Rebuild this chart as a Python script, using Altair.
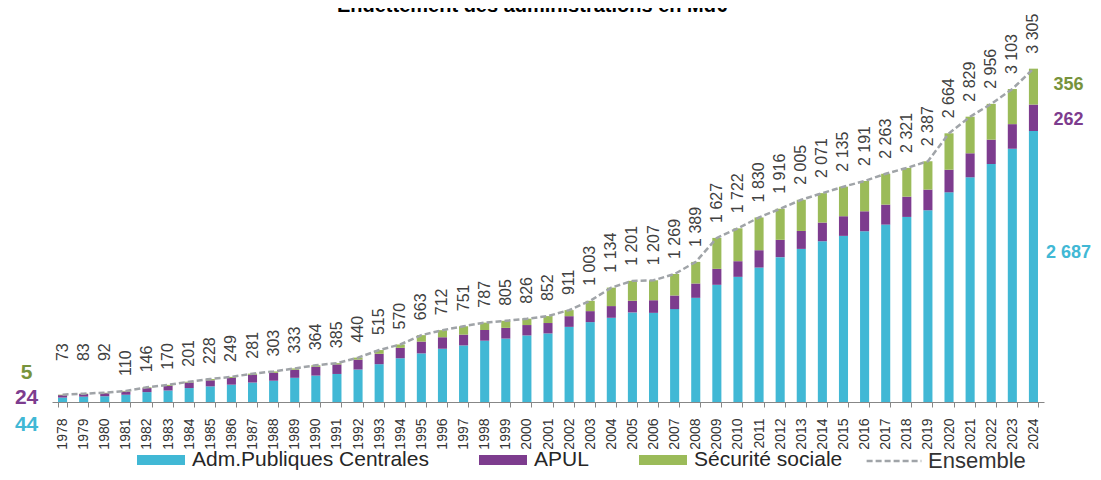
import altair as alt
import pandas as pd

# ---------------- data ----------------
years = list(range(1978, 2025))
totals = [73, 83, 92, 110, 146, 170, 201, 228, 249, 281, 303, 333,
          364, 385, 440, 515, 570, 663, 712, 751, 787, 805,
          826, 852, 911, 1003, 1134, 1201, 1207, 1269, 1389, 1627,
          1722, 1830, 1916, 2005, 2071, 2135, 2191, 2263, 2321, 2387,
          2664, 2829, 2956, 3103, 3305]
apuc = [44, 53, 57, 72, 98, 114, 138, 155, 172, 193, 211, 240,
        262, 278, 322, 375, 434, 482, 528, 561, 608, 629,
        660, 680, 745, 792, 835, 888, 884, 921, 1033, 1162,
        1241, 1333, 1436, 1518, 1594, 1647, 1693, 1759, 1835, 1901,
        2079, 2228, 2360, 2511, 2687]
apul = [24, 26, 30, 32, 40, 45, 55, 60, 66, 76, 78, 80,
        87, 95, 98, 103, 103, 117, 114, 107, 106, 106,
        103, 103, 106, 109, 116, 116, 125, 135, 142, 158,
        155, 172, 172, 178, 185, 195, 198, 198, 201, 205,
        224, 238, 241, 244, 262]
asso = [5, 4, 5, 6, 8, 11, 8, 13, 11, 12, 14, 13,
        15, 12, 20, 37, 33, 64, 70, 83, 73, 70,
        63, 69, 60, 102, 183, 197, 198, 213, 214, 307,
        326, 325, 308, 309, 292, 293, 300, 306, 285, 281,
        361, 363, 355, 348, 356]
series = ["Adm.Publiques Centrales", "APUL", "Sécurité sociale"]
bar_colors = ["#41b8d5", "#7d3c8e", "#9bbb59"]
note_colors = ["#41b8d5", "#7d3c8e", "#77933c"]
line_name = "Ensemble"
title_text = "Endettement des administrations en Md€"


def fr(v):
    return f"{v:,}".replace(",", " ")


rows = []
for i, yr in enumerate(years):
    for k, vals in enumerate([apuc, apul, asso]):
        rows.append({"year": str(yr), "yr": yr, "serie": series[k],
                     "value": vals[i], "ord": k})
bars_df = pd.DataFrame(rows)
tot_df = pd.DataFrame({"year": [str(y) for y in years], "yr": years,
                       "total": totals, "label": [fr(t) for t in totals],
                       "ens": line_name})

FONT = "Liberation Sans"

x_enc = alt.X("year:N", title=None,
              scale=alt.Scale(paddingInner=0.57, paddingOuter=0.285),
              axis=alt.Axis(labelAngle=270, labelFontSize=14, labelFont=FONT,
                            labelColor="#333333", labelPadding=11, tickSize=5,
                            tickColor="#878787", domainColor="#878787",
                            tickBand="extent", labelOverlap=False, grid=False))
y_scale = alt.Scale(domain=[0, 3500], nice=False)

bars = alt.Chart(bars_df).mark_bar().encode(
    x=x_enc,
    y=alt.Y("value:Q", stack="zero", scale=y_scale, axis=None),
    color=alt.Color("serie:N", scale=alt.Scale(domain=series, range=bar_colors),
                    legend=alt.Legend(orient="none", legendX=85, legendY=387,
                                      direction="horizontal", title=None,
                                      symbolType="M-1,-0.21H1V0.21H-1Z",
                                      symbolSize=2304, symbolStrokeWidth=0,
                                      symbolOpacity=1, labelLimit=400,
                                      labelFontSize=21, labelFont=FONT,
                                      labelColor="#262626", labelOffset=7,
                                      columnPadding=50, padding=0)),
    order=alt.Order("ord:Q", sort="ascending"),
)

line = alt.Chart(tot_df).mark_line(strokeWidth=2.5, color="#a0a4a8").encode(
    x=alt.X("year:N"),
    y=alt.Y("total:Q", scale=y_scale, axis=None),
    strokeDash=alt.StrokeDash("ens:N",
                              scale=alt.Scale(domain=[line_name], range=[[6, 3]]),
                              legend=alt.Legend(orient="none", legendX=813, legendY=383,
                                                title=None, symbolType="stroke",
                                                symbolSize=3000, symbolStrokeWidth=2.5,
                                                symbolStrokeColor="#a0a4a8",
                                                labelFontSize=22, labelFont=FONT,
                                                labelColor="#333333", labelOffset=5,
                                                labelLimit=300, padding=0)),
)

labels = alt.Chart(tot_df).transform_calculate(
    lab_y="datum.yr <= 1980 ? 257 : datum.total"
).mark_text(angle=270, align="left", baseline="middle", dx=15, fontSize=16,
            font=FONT, color="#404040").encode(
    x=alt.X("year:N"),
    y=alt.Y("lab_y:Q", scale=y_scale, axis=None),
    text="label:N",
)

# end-point annotations (first and last year, by series)
layers = [bars, line, labels]
first_vals = [apuc[0], apul[0], asso[0]]
last_vals = [apuc[-1], apul[-1], asso[-1]]
left_dy = [25, 2, -22]
right_dy = [-13, 2, -2]
for k in range(3):
    for yr, vals, dx, dy, fs in [(years[0], first_vals, -36, left_dy[k], 21),
                                 (years[-1], last_vals, 35, right_dy[k], 18)]:
        mid = sum(vals[:k]) + vals[k] / 2
        d = pd.DataFrame({"year": [str(yr)], "mid": [mid], "txt": [fr(vals[k])]})
        layers.append(
            alt.Chart(d).mark_text(dx=dx, dy=dy, fontSize=fs, fontWeight="bold",
                                   font=FONT, color=note_colors[k],
                                   align="center", baseline="middle").encode(
                x=alt.X("year:N"),
                y=alt.Y("mid:Q", scale=y_scale, axis=None),
                text="txt:N")
        )

title = alt.Chart(pd.DataFrame({"t": [title_text]})).mark_text(
    fontSize=20, fontWeight="bold", font=FONT, color="#000000",
    align="center", baseline="alphabetic").encode(
    x=alt.value(480), y=alt.value(-37), text="t:N")
layers.append(title)

chart = alt.layer(*layers).properties(
    width=992, height=353,
    autosize=alt.AutoSizeParams(type="none"),
    padding={"left": 44, "top": 41, "right": 49, "bottom": 70},
    background="white",
).configure_view(stroke=None)

chart.save("out.html", embed_options={"renderer": "svg", "actions": False})
